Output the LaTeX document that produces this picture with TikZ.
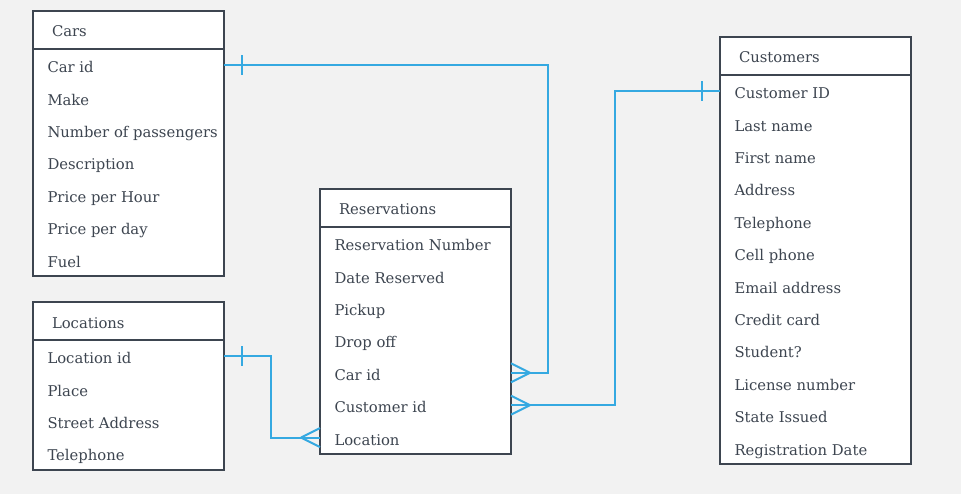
\documentclass[tikz,border=0pt]{standalone}
\usepackage{fontspec}
\setmainfont{DejaVu Serif}
\usetikzlibrary{positioning}

\definecolor{ink}{HTML}{3D4550}
\definecolor{wire}{HTML}{35A9E1}
\definecolor{paper}{HTML}{F2F2F2}

\tikzset{
  head/.style={fill=white, text=ink, anchor=north west,
    minimum height=38pt, minimum width=191pt, inner xsep=19pt, outer sep=0pt,
    text height=15pt, text depth=1pt, font=\fontsize{14.8}{16}\selectfont},
  row/.style={fill=white, text=ink, minimum height=32.4pt, minimum width=191pt,
    inner xsep=14.5pt, outer sep=0pt, text height=16pt, text depth=1pt,
    font=\fontsize{14.8}{16}\selectfont},
  frame/.style={draw=ink, line width=2pt},
  link/.style={draw=wire, line width=2pt}
}

\begin{document}
\begin{tikzpicture}[x=1pt, y=-1pt]
\fill[paper] (0,0) rectangle (961,494);
\useasboundingbox (0,0) rectangle (961,494);

% Cars
\node[head] (cars) at (33,11) {\makebox[153pt][l]{Cars}};
\foreach \t [count=\i, remember=\i as \j (initially {})] in {Car id, Make, Number of passengers, Description, Price per Hour, Price per day, Fuel}
  \node[row, below=0pt of cars\j] (cars\i) {\makebox[162pt][l]{\t}};
\draw[frame] (cars.north west) rectangle (cars7.south east);
\draw[frame] (cars.south west) -- (cars.south east);

% Locations
\node[head] (loc) at (33,302) {\makebox[153pt][l]{Locations}};
\foreach \t [count=\i, remember=\i as \j (initially {})] in {Location id, Place, Street Address, Telephone}
  \node[row, below=0pt of loc\j] (loc\i) {\makebox[162pt][l]{\t}};
\draw[frame] (loc.north west) rectangle (loc4.south east);
\draw[frame] (loc.south west) -- (loc.south east);

% Reservations
\node[head] (res) at (320,189) {\makebox[153pt][l]{Reservations}};
\foreach \t [count=\i, remember=\i as \j (initially {})] in {Reservation Number, Date Reserved, Pickup, Drop off, Car id, Customer id, Location}
  \node[row, below=0pt of res\j] (res\i) {\makebox[162pt][l]{\t}};
\draw[frame] (res.north west) rectangle (res7.south east);
\draw[frame] (res.south west) -- (res.south east);

% Customers
\node[head] (cust) at (720,37) {\makebox[153pt][l]{Customers}};
\foreach \t [count=\i, remember=\i as \j (initially {})] in {Customer ID, Last name, First name, Address, Telephone, Cell phone, Email address, Credit card, Student?, License number, State Issued, Registration Date}
  \node[row, below=0pt of cust\j] (cust\i) {\makebox[162pt][l]{\t}};
\draw[frame] (cust.north west) rectangle (cust12.south east);
\draw[frame] (cust.south west) -- (cust.south east);

% relations
\coordinate (carsbend) at (548,0);
\coordinate (custbend) at (615,0);
\coordinate (locbend) at (271,0);

\draw[link] (cars1.east) -| (carsbend |- res5.east) -- (res5.east);
\draw[link] (cars1.east) ++(18,-10) -- ++(0,20);
\draw[link] (res5.east) ++(19,0) -- ++(-19,-9.5) ++(19,9.5) -- ++(-19,9.5);

\draw[link] (cust1.west) -| (custbend |- res6.east) -- (res6.east);
\draw[link] (cust1.west) ++(-18,-10) -- ++(0,20);
\draw[link] (res6.east) ++(19,0) -- ++(-19,-9.5) ++(19,9.5) -- ++(-19,9.5);

\draw[link] (loc1.east) -| (locbend |- res7.west) -- (res7.west);
\draw[link] (loc1.east) ++(18,-10) -- ++(0,20);
\draw[link] (res7.west) ++(-19,0) -- ++(19,-9.5) ++(-19,9.5) -- ++(19,9.5);
\end{tikzpicture}
\end{document}
